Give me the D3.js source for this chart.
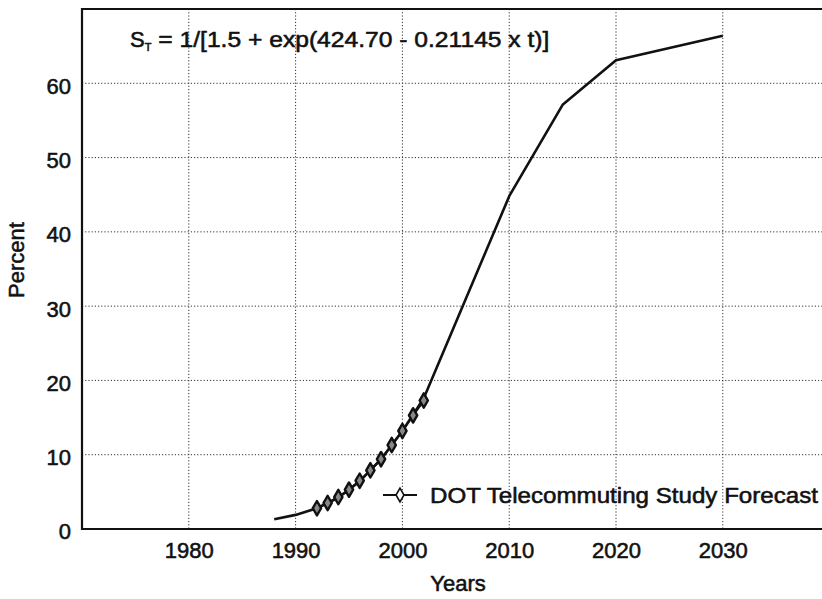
<!DOCTYPE html>
<html>
<head>
<meta charset="utf-8">
<script src="https://cdn.jsdelivr.net/npm/d3@7"></script>
<style>
  html, body { margin: 0; padding: 0; background: #fff; }
  svg { display: block; font-family: "Liberation Sans", Arial, Helvetica, sans-serif; }
  text { fill: #111; }
</style>
</head>
<body>
<svg id="chart" width="822" height="599"></svg>
<script>
// ---- data ----
const xTicks = [1980, 1990, 2000, 2010, 2020, 2030];
const yTicks = [0, 10, 20, 30, 40, 50, 60];
const curveYears  = [1988, 1990, 1992, 1994, 1996, 1998, 2000, 2002, 2005, 2010, 2015, 2020, 2030];
const curveValues = [1.3, 1.9, 2.8, 4.2, 6.4, 9.4, 13.2, 17.6, 27.8, 44.8, 57.1, 63.1, 66.4];
const dotYears  = [1992, 1993, 1994, 1995, 1996, 1997, 1998, 1999, 2000, 2001, 2002];
const dotValues = [2.8, 3.5, 4.3, 5.3, 6.5, 7.9, 9.4, 11.3, 13.2, 15.3, 17.3];
const legendLabel = "DOT Telecommuting Study Forecast";
const xTitle = "Years";
const yTitle = "Percent";

// ---- layout ----
const svg = d3.select("#chart");
const mLeft = 82, mTop = 9, mBottom = 529, mRight = 829.6;
const x = d3.scaleLinear().domain([1970, 2040]).range([mLeft, mRight]);
const y = d3.scaleLinear().domain([0, 70]).range([mBottom, mTop]);
const FS = 22;
const heavy = sel => sel.attr("stroke", "#111").attr("stroke-width", 0.55).attr("stroke-linejoin", "round");

// grid
const grid = svg.append("g").attr("stroke", "#333").attr("stroke-width", 1).attr("stroke-dasharray", "1.2,2");
grid.selectAll("line.v").data(xTicks).join("line").attr("class", "v")
  .attr("x1", d => x(d)).attr("x2", d => x(d)).attr("y1", mTop).attr("y2", mBottom);
grid.selectAll("line.h").data(yTicks.filter(d => d > 0)).join("line").attr("class", "h")
  .attr("x1", mLeft).attr("x2", mRight).attr("y1", d => y(d)).attr("y2", d => y(d));

// axes
const xAxis = d3.axisBottom(x).tickValues(xTicks).tickFormat(d3.format("d")).tickSize(0).tickPadding(13);
const yAxis = d3.axisLeft(y).tickValues(yTicks).tickSize(0).tickPadding(11);
const gx = svg.append("g").attr("transform", `translate(0,${mBottom})`).call(xAxis);
const gy = svg.append("g").attr("transform", `translate(${mLeft},0)`).call(yAxis);
[gx, gy].forEach(g => {
  g.select(".domain").remove();
  g.selectAll("text").attr("font-size", FS)
    .attr("font-family", "Liberation Sans, Arial, sans-serif").attr("fill", "#111").call(heavy);
});
gy.selectAll("text").attr("dy", "0.45em");

// frame
svg.append("path")
  .attr("d", `M${mRight},${mTop}H${mLeft}V${mBottom}H${mRight}`)
  .attr("fill", "none").attr("stroke", "#111").attr("stroke-width", 2.2);

// curve
const line = d3.line().x(d => x(d[0])).y(d => y(d[1]));
svg.append("path")
  .datum(d3.zip(curveYears, curveValues))
  .attr("d", line)
  .attr("fill", "none").attr("stroke", "#111").attr("stroke-width", 2.6).attr("stroke-linejoin", "round");

// DOT series
const dotData = d3.zip(dotYears, dotValues);
svg.append("path").datum(dotData).attr("d", line)
  .attr("fill", "none").attr("stroke", "#111").attr("stroke-width", 2.2);
const diamond = d3.symbol().type(d3.symbolDiamond).size(60);
svg.append("g").selectAll("path").data(dotData).join("path")
  .attr("d", diamond)
  .attr("transform", d => `translate(${x(d[0])},${y(d[1])})`)
  .attr("fill", "#888").attr("stroke", "#111").attr("stroke-width", 2.4).attr("stroke-linejoin", "round");

// legend
const lg = svg.append("g");
lg.append("line").attr("x1", 383).attr("x2", 417).attr("y1", 495).attr("y2", 495)
  .attr("stroke", "#111").attr("stroke-width", 2);
lg.append("path").attr("d", d3.symbol().type(d3.symbolDiamond).size(55))
  .attr("transform", "translate(400,495)")
  .attr("fill", "#fff").attr("stroke", "#111").attr("stroke-width", 1.6);
lg.append("text").attr("x", 430).attr("y", 503).attr("font-size", FS)
  .attr("textLength", 388).attr("lengthAdjust", "spacingAndGlyphs").call(heavy).text(legendLabel);

// formula
const f = svg.append("text").attr("x", 130).attr("y", 47).attr("font-size", FS).call(heavy);
f.append("tspan").text("S");
f.append("tspan").attr("font-size", 11).attr("dy", 4).text("T");
f.append("tspan").attr("dy", -4).attr("textLength", 398).attr("lengthAdjust", "spacingAndGlyphs")
  .text(" = 1/[1.5 + exp(424.70 - 0.21145 x t)]");

// axis titles
svg.append("text").attr("x", 458).attr("y", 591).attr("text-anchor", "middle").attr("font-size", FS)
  .call(heavy).text(xTitle);
svg.append("text").attr("transform", "translate(24,260) rotate(-90)").attr("text-anchor", "middle")
  .attr("font-size", FS).call(heavy).text(yTitle);
</script>
</body>
</html>
